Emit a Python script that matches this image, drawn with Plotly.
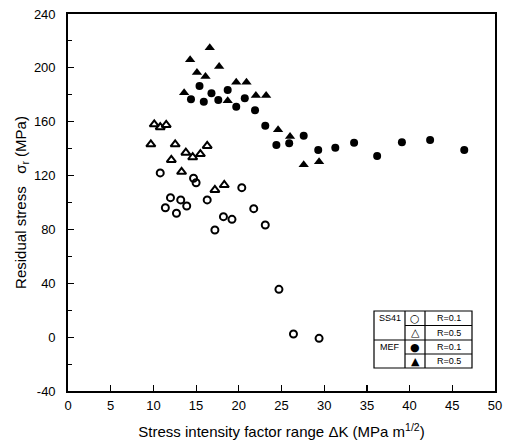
import plotly.graph_objects as go

# SS41, R=0.1 (open circles)
ss41_r01_x = [10.8, 14.7, 15.0, 20.35, 12.0, 13.2, 13.9, 11.4, 12.7, 16.3, 21.75, 18.2, 19.2, 23.1, 17.2, 24.7, 26.4, 29.4]
ss41_r01_y = [122, 118, 114.7, 111, 103.6, 101.9, 97.4, 96.1, 92, 101.9, 95.4, 89.5, 87.5, 83.3, 79.6, 35.5, 2.3, -0.9]

# SS41, R=0.5 (open triangles)
ss41_r05_x = [10.1, 10.8, 11.5, 9.7, 12.55, 12.1, 13.8, 14.6, 15.5, 16.3, 13.3, 17.2, 18.3]
ss41_r05_y = [158.1, 155.9, 157.6, 143.2, 143.2, 131.6, 137, 133.6, 136, 142, 122.8, 109.3, 113]

# MEF, R=0.1 (filled circles)
mef_r01_x = [15.4, 14.4, 15.9, 16.8, 17.6, 18.7, 19.7, 20.7, 21.9, 23.1, 24.4, 25.9, 27.6, 29.3, 31.3, 33.5, 36.2, 39.1, 42.4, 46.4]
mef_r01_y = [186.6, 176.7, 174.9, 181.1, 176.2, 183.6, 171.2, 177.4, 168.5, 157, 142.7, 144, 149.6, 139, 140.7, 144.4, 134.5, 144.7, 146.4, 139]

# MEF, R=0.5 (filled triangles)
mef_r05_x = [16.6, 14.3, 17.7, 15.1, 16.1, 13.6, 18.7, 19.7, 20.9, 22.0, 23.2, 24.6, 26.0, 27.6, 29.4]
mef_r05_y = [215, 206, 201, 196.5, 193.5, 181.6, 175.6, 189.3, 189.3, 179.4, 179.4, 154, 149, 128, 130.3]

x_ticks = [0, 5, 10, 15, 20, 25, 30, 35, 40, 45, 50]
y_ticks = [-40, 0, 40, 80, 120, 160, 200, 240]

leg_groups = ["SS41", "MEF"]
leg_syms = ["○", "△", "●", "▲"]
leg_r = ["R=0.1", "R=0.5", "R=0.1", "R=0.5"]

FONT = "Liberation Sans, Arial, sans-serif"

fig = go.Figure()
fig.add_trace(go.Scatter(x=ss41_r01_x, y=ss41_r01_y, mode="markers",
                         marker=dict(symbol="circle-open", size=7, color="black", line=dict(width=2))))
fig.add_trace(go.Scatter(x=ss41_r05_x, y=ss41_r05_y, mode="markers",
                         marker=dict(symbol="triangle-up-open", size=8, color="black", line=dict(width=2))))
fig.add_trace(go.Scatter(x=mef_r01_x, y=mef_r01_y, mode="markers",
                         marker=dict(symbol="circle", size=8, color="black")))
fig.add_trace(go.Scatter(x=mef_r05_x, y=mef_r05_y, mode="markers",
                         marker=dict(symbol="triangle-up", size=9, color="black")))

W, H = 505, 445
L, R, T, B = 68, 495, 14, 391          # plot-area edges in pixels
pw, ph = R - L, B - T
def px(x): return (x - L) / pw
def py(y): return (B - y) / ph

lx0, lx1, lx2, lx3 = 374, 405, 425, 472
rows = [311, 325.5, 340, 354, 368]
shapes = []
lw = 1.2
shapes.append(dict(type="rect", xref="paper", yref="paper", x0=px(lx0), x1=px(lx3), y0=py(rows[-1]), y1=py(rows[0]),
                   line=dict(color="black", width=lw)))
for xv in (lx1, lx2):
    shapes.append(dict(type="line", xref="paper", yref="paper", x0=px(xv), x1=px(xv), y0=py(rows[-1]), y1=py(rows[0]),
                       line=dict(color="black", width=lw)))
for i, yv in enumerate(rows[1:-1]):
    x_start = lx0 if i == 1 else lx1
    shapes.append(dict(type="line", xref="paper", yref="paper", x0=px(x_start), x1=px(lx3), y0=py(yv), y1=py(yv),
                       line=dict(color="black", width=lw)))

annotations = []
for g, name in enumerate(leg_groups):
    yc = (rows[2 * g] + rows[2 * g + 1]) / 2
    annotations.append(dict(xref="paper", yref="paper", x=px((lx0 + lx1) / 2), y=py(yc), text=name,
                            xanchor="center", yanchor="middle",
                            showarrow=False, font=dict(family=FONT, size=9, color="black")))
for i in range(4):
    yc = (rows[i] + rows[i + 1]) / 2
    annotations.append(dict(xref="paper", yref="paper", x=px((lx1 + lx2) / 2), y=py(yc), text=leg_syms[i],
                            xanchor="center", yanchor="middle",
                            showarrow=False, font=dict(family="DejaVu Sans", size=11, color="black")))
    annotations.append(dict(xref="paper", yref="paper", x=px((lx2 + lx3) / 2), y=py(yc), text=leg_r[i],
                            xanchor="center", yanchor="middle",
                            showarrow=False, font=dict(family=FONT, size=9, color="black")))

fig.update_layout(
    width=W, height=H,
    margin=dict(l=L, r=W - R, t=T, b=H - B, autoexpand=False),
    paper_bgcolor="white", plot_bgcolor="white",
    showlegend=False,
    font=dict(family=FONT, size=12, color="black"),
    shapes=shapes, annotations=annotations,
    xaxis=dict(range=[0, 50], tickvals=x_ticks, ticktext=[str(v) for v in x_ticks], automargin=False,
               ticks="inside", ticklen=6, tickwidth=1.2, tickcolor="black", ticklabelstandoff=2,
               ticklabeloverflow="allow",
               showline=True, linecolor="black", linewidth=1.8, mirror=True, showgrid=False, zeroline=False,
               title=dict(text="Stress intensity factor range ΔK (MPa m<sup>1/2</sup>)", font=dict(size=15), standoff=14),
               tickfont=dict(size=13)),
    yaxis=dict(range=[-40, 240], tickvals=y_ticks, ticktext=[str(v) for v in y_ticks], automargin=False,
               ticks="inside", ticklen=6, tickwidth=1.2, tickcolor="black", ticklabelstandoff=8,
               ticklabeloverflow="allow",
               minor=dict(dtick=20, tick0=0, ticks="inside", ticklen=4, tickcolor="black", tickwidth=1),
               showline=True, linecolor="black", linewidth=1.8, mirror=True, showgrid=False, zeroline=False,
               title=dict(text="Residual stress   σ<sub>r</sub> (MPa)", font=dict(size=15), standoff=4),
               tickfont=dict(size=13)),
)

fig.write_html("out.html", config={"displayModeBar": False, "staticPlot": True},
               post_script="document.body.style.margin='0';document.body.style.overflow='hidden';")
